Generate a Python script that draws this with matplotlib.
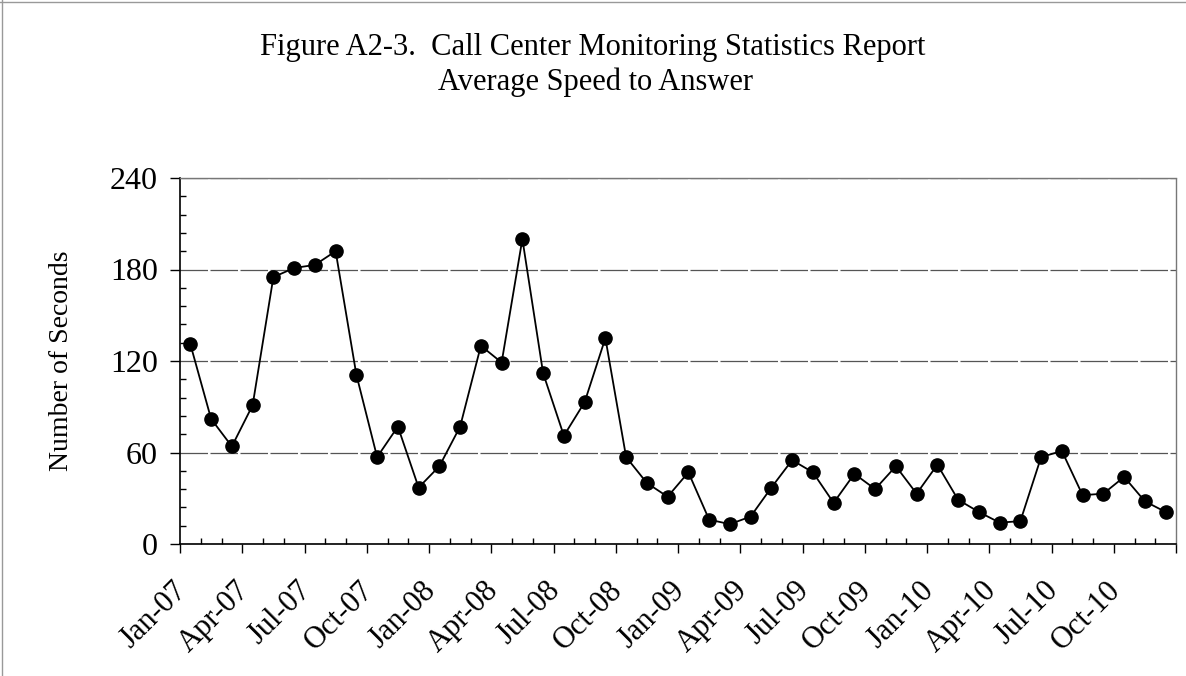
import numpy as np
import matplotlib
matplotlib.use("Agg")
import matplotlib.pyplot as plt
import matplotlib.transforms as mtransforms
from matplotlib.lines import Line2D

# ---- data ----
months = ["Jan-07", "Feb-07", "Mar-07", "Apr-07", "May-07", "Jun-07", "Jul-07", "Aug-07",
          "Sep-07", "Oct-07", "Nov-07", "Dec-07",
          "Jan-08", "Feb-08", "Mar-08", "Apr-08", "May-08", "Jun-08", "Jul-08", "Aug-08",
          "Sep-08", "Oct-08", "Nov-08", "Dec-08",
          "Jan-09", "Feb-09", "Mar-09", "Apr-09", "May-09", "Jun-09", "Jul-09", "Aug-09",
          "Sep-09", "Oct-09", "Nov-09", "Dec-09",
          "Jan-10", "Feb-10", "Mar-10", "Apr-10", "May-10", "Jun-10", "Jul-10", "Aug-10",
          "Sep-10", "Oct-10", "Nov-10", "Dec-10"]
seconds = [131, 82, 64, 91, 175, 181, 183, 192, 111, 57, 77, 37,
           51, 77, 130, 119, 200, 112, 71, 93, 135, 57, 40, 31,
           47, 16, 13, 18, 37, 55, 47, 27, 46, 36, 51, 33,
           52, 29, 21, 14, 15, 57, 61, 32, 33, 44, 28, 21]
label_every = 3
y_ticks = [0, 60, 120, 180, 240]
title1 = "Figure A2-3.  Call Center Monitoring Statistics Report"
title2 = "Average Speed to Answer"
ylabel = "Number of Seconds"

plt.rcParams["font.family"] = ["Liberation Serif", "DejaVu Serif"]

W, H = 1186, 676
fig = plt.figure(figsize=(W / 100, H / 100), dpi=100)
ax = fig.add_axes([180 / W, 1 - 544 / H, 996 / W, 366 / H])

x = np.arange(len(seconds))
ax.plot(x, seconds, color="black", lw=1.3, marker="o", markersize=9.5,
        markerfacecolor="black", markeredgecolor="black", zorder=3)

n = len(seconds)
ax.set_xlim(-0.5, n - 0.5)
ax.set_ylim(0, 240)

# x ticks at category boundaries
ax.set_xticks(np.arange(-0.5, n, label_every))
ax.set_xticks(np.arange(-0.5, n, 1), minor=True)
ax.tick_params(axis="x", which="major", direction="out", length=6.5, width=1,
               labelbottom=False)
ax.tick_params(axis="x", which="minor", direction="in", length=4.5, width=1)

# labels at category centres
sec = ax.secondary_xaxis("bottom")
lab_pos = x[::label_every]
sec.set_xticks(lab_pos, [months[i] for i in lab_pos])
sec.tick_params(length=0, pad=23, labelsize=22)
sec.spines["bottom"].set_visible(False)
offset = mtransforms.ScaledTranslation(-18 / 100, 0, fig.dpi_scale_trans)
for lab in sec.get_xticklabels():
    lab.set_rotation(45)
    lab.set_rotation_mode("anchor")
    lab.set_ha("right")
    lab.set_va("top")
    lab.set_transform(lab.get_transform() + offset)

# y ticks
ax.set_yticks(y_ticks)
ax.set_yticks(np.arange(0, 241, 12), minor=True)
ax.tick_params(axis="y", which="major", direction="out", length=7, width=1,
               pad=9, labelsize=23)
ax.tick_params(axis="y", which="minor", direction="in", length=4.5, width=1)

# gridlines
ax.grid(axis="y", which="major", color="#555555", lw=0.9, linestyle=(0, (22, 2)))
ax.set_axisbelow(True)

for s in ["left", "bottom"]:
    ax.spines[s].set_color("black")
    ax.spines[s].set_linewidth(1.2)
for s in ["top", "right"]:
    ax.spines[s].set_color("#777777")
    ax.spines[s].set_linewidth(1.0)
    ax.spines[s].set_linestyle((0, (3, 1)))

fig.text(62 / W, 1 - 361 / H, ylabel, rotation=90, ha="center", va="center",
         fontsize=20)
fig.text(593 / W, 1 - 47 / H, title1, ha="center", va="center", fontsize=22)
fig.text(596 / W, 1 - 82 / H, title2, ha="center", va="center", fontsize=22)

# page border (left and top)
fig.add_artist(Line2D([1.5 / W, 1.5 / W], [0, 1], color="#999999", lw=1,
                      transform=fig.transFigure))
fig.add_artist(Line2D([0, 1], [1 - 1.5 / H, 1 - 1.5 / H], color="#999999", lw=1,
                      transform=fig.transFigure))

fig.savefig("out.png", dpi=100)
